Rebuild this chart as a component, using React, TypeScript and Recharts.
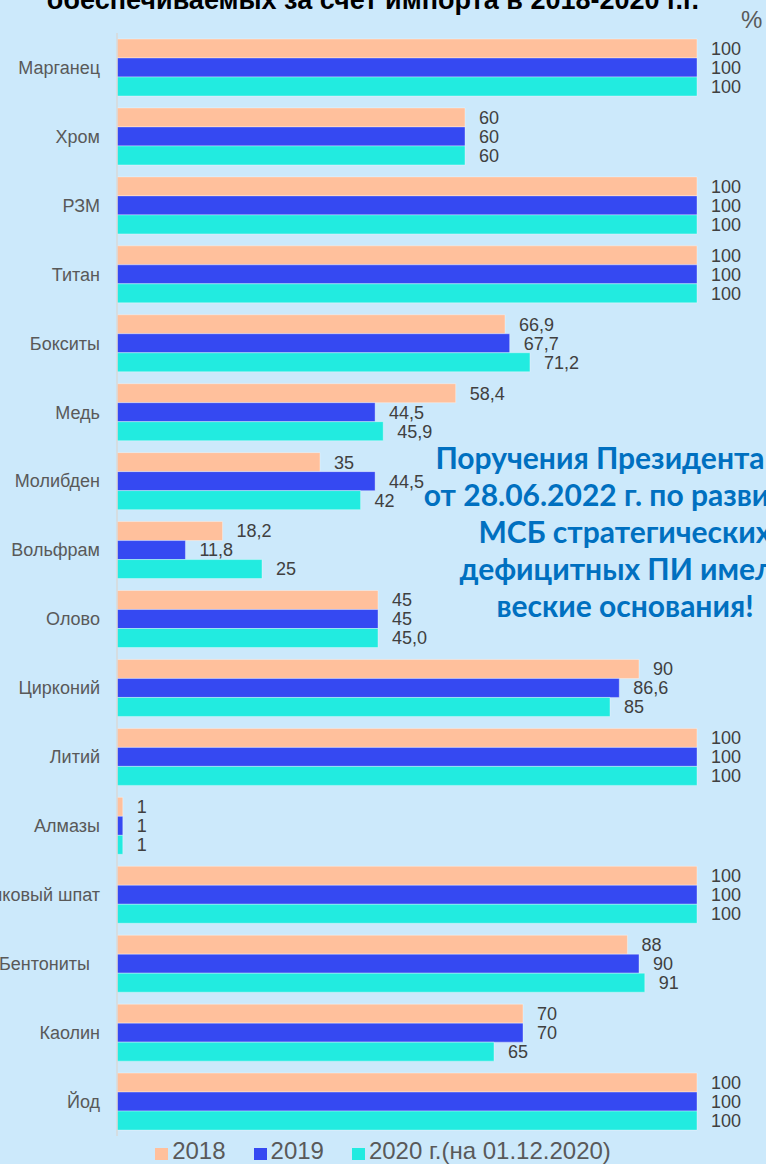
import React from 'react';
import { BarChart, Bar, XAxis, YAxis, LabelList, Legend } from 'recharts';

const categories = [
  'Марганец', 'Хром', 'РЗМ', 'Титан', 'Бокситы', 'Медь', 'Молибден', 'Вольфрам',
  'Олово', 'Цирконий', 'Литий', 'Алмазы', 'Плавиковый шпат', 'Бентониты\u00A0\u00A0', 'Каолин', 'Йод',
];
const values2018 = [100, 60, 100, 100, 66.9, 58.4, 35, 18.2, 45, 90, 100, 1, 100, 88, 70, 100];
const values2019 = [100, 60, 100, 100, 67.7, 44.5, 44.5, 11.8, 45, 86.6, 100, 1, 100, 90, 70, 100];
const values2020 = [100, 60, 100, 100, 71.2, 45.9, 42, 25, 45, 85, 100, 1, 100, 91, 65, 100];
const labels2020 = ['100', '60', '100', '100', '71,2', '45,9', '42', '25', '45,0', '85', '100', '1', '100', '91', '65', '100'];
const seriesNames = ['2018', '2019', '2020 г.(на 01.12.2020)'];
const seriesColors = ['#ffc09c', '#3549f2', '#22ebe0'];
const titleText = 'обеспечиваемых за счет импорта в 2018-2020 г.г.';
const unitText = '%';
const noteLines = [
  'Поручения Президента РФ',
  'от 28.06.2022 г. по развитию',
  'МСБ стратегических',
  'дефицитных ПИ имели',
  'веские основания!',
];

const rows = categories.map((name, i) => ({
  name,
  v2018: values2018[i],
  v2019: values2019[i],
  v2020: values2020[i],
  l2020: labels2020[i],
}));

const FONT = '"Liberation Sans", Arial, sans-serif';
const fmt = (v: any) => String(v).replace('.', ',');

const CategoryTick = (props: any) => {
  const { x, y, payload } = props;
  return (
    <text x={x} y={y} dy="0.355em" textAnchor="end" fill="#595959" fontSize={18} fontFamily={FONT}>
      {payload.value}
    </text>
  );
};

const renderLegend = () => (
  <div
    style={{
      display: 'flex',
      justifyContent: 'center',
      alignItems: 'baseline',
      fontFamily: FONT,
      fontSize: 24,
      color: '#595959',
      lineHeight: '28px',
    }}
  >
    {seriesNames.map((n, i) => (
      <div key={n} style={{ display: 'flex', alignItems: 'center', marginLeft: i === 0 ? 0 : 28 }}>
        <span
          style={{
            display: 'inline-block',
            width: 13,
            height: 12,
            background: seriesColors[i],
            marginRight: 4,
            marginTop: 6,
          }}
        />
        <span>{n}</span>
      </div>
    ))}
  </div>
);

export default function App() {
  const labelStyle = { fill: '#404040', fontSize: 18, fontFamily: FONT };
  return (
    <div
      style={{
        position: 'absolute',
        left: 0,
        top: 0,
        width: 766,
        height: 1164,
        overflow: 'hidden',
        background: '#cce9fb',
      }}
    >
      <BarChart
        width={766}
        height={1164}
        data={rows}
        layout="vertical"
        margin={{ top: 33, right: 69, bottom: 28, left: 0 }}
        barCategoryGap={6}
        barGap={0}
      >
        <XAxis type="number" domain={[0, 100]} hide />
        <YAxis
          type="category"
          dataKey="name"
          width={117}
          tickLine={false}
          tickMargin={11}
          axisLine={{ stroke: '#d9d9d9', strokeWidth: 1.5 }}
          tick={<CategoryTick />}
          interval={0}
        />
        <Legend
          layout="horizontal"
          verticalAlign="middle"
          align="center"
          content={renderLegend}
          wrapperStyle={{ top: 1137, left: 0, width: 766 }}
        />
        <Bar dataKey="v2018" name={seriesNames[0]} fill={seriesColors[0]} stroke="rgba(255,255,255,0.35)" strokeWidth={1} isAnimationActive={false}>
          <LabelList dataKey="v2018" position="right" offset={14} formatter={fmt} style={labelStyle} />
        </Bar>
        <Bar dataKey="v2019" name={seriesNames[1]} fill={seriesColors[1]} stroke="rgba(255,255,255,0.35)" strokeWidth={1} isAnimationActive={false}>
          <LabelList dataKey="v2019" position="right" offset={14} formatter={fmt} style={labelStyle} />
        </Bar>
        <Bar dataKey="v2020" name={seriesNames[2]} fill={seriesColors[2]} stroke="rgba(255,255,255,0.35)" strokeWidth={1} isAnimationActive={false}>
          <LabelList dataKey="l2020" position="right" offset={14} style={labelStyle} />
        </Bar>
      </BarChart>
      <div
        style={{
          position: 'absolute',
          left: 0,
          width: 746,
          top: -13,
          textAlign: 'center',
          fontFamily: FONT,
          fontWeight: 'bold',
          fontSize: 27,
          lineHeight: '27px',
          color: '#000',
          whiteSpace: 'nowrap',
        }}
      >
        {titleText}
      </div>
      <div
        style={{
          position: 'absolute',
          left: 741,
          top: 8,
          fontFamily: FONT,
          fontSize: 24,
          lineHeight: '24px',
          color: '#595959',
        }}
      >
        {unitText}
      </div>
      <div
        style={{
          position: 'absolute',
          left: 325,
          width: 600,
          top: 439,
          textAlign: 'center',
          fontFamily: 'Lato, "Open Sans", sans-serif',
          fontWeight: 'bold',
          fontSize: 30,
          lineHeight: '37px',
          color: '#0070c0',
          whiteSpace: 'nowrap',
        }}
      >
        {noteLines.map((l) => (
          <div key={l}>{l}</div>
        ))}
      </div>
    </div>
  );
}
